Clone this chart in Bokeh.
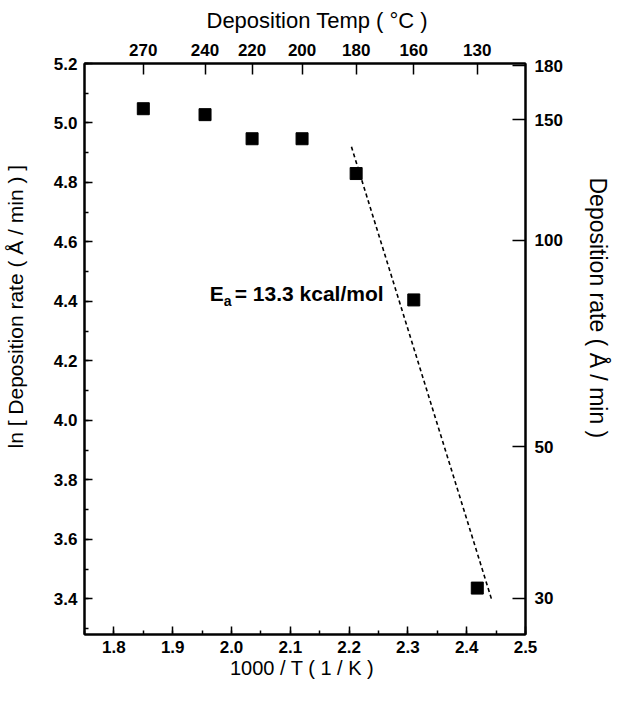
import math
from bokeh.plotting import figure
from bokeh.models import (Range1d, LinearAxis, LogAxis, LogScale, SingleIntervalTicker,
                          FixedTicker, CustomJSTickFormatter, NumeralTickFormatter, Title)
from bokeh.core.properties import value
from bokeh.embed import file_html
from bokeh.resources import INLINE

# ---- data ----
inv_T = [1.85, 1.955, 2.035, 2.12, 2.212, 2.31, 2.418]          # 1000/T (1/K)
ln_rate = [5.048, 5.028, 4.947, 4.947, 4.83, 4.405, 3.436]       # ln(rate)
temp_labels = ["270", "240", "220", "200", "180", "160", "130"]  # top axis (°C)
fit_x = [2.204, 2.442]
fit_y = [4.92, 3.40]
rate_ticks = [30, 50, 100, 150, 180]                             # right axis (Å/min)
ea_text = "= 13.3 kcal/mol"

FONT = "Liberation Sans"
x_lo, x_hi = 1.75, 2.5
y_lo, y_hi = 3.28, 5.2

p = figure(width=612, height=685, x_range=Range1d(x_lo, x_hi), y_range=Range1d(y_lo, y_hi),
           x_axis_type=None, y_axis_type=None, output_backend="svg", toolbar_location=None,
           min_border_left=84, min_border_right=83, min_border_top=63, min_border_bottom=51)
p.outline_line_color = "black"
p.outline_line_width = 2
p.background_fill_color = "white"
p.border_fill_color = "white"

p.extra_y_ranges = {"rate": Range1d(math.exp(y_lo), math.exp(y_hi))}
p.extra_y_scales = {"rate": LogScale()}


def style(ax, tick_in, minor_in, label_standoff):
    ax.axis_line_color = "black"
    ax.axis_line_width = 2
    ax.major_tick_in = tick_in
    ax.major_tick_out = 0
    ax.minor_tick_in = minor_in
    ax.minor_tick_out = 0
    ax.major_tick_line_width = 1.5
    ax.minor_tick_line_width = 1.5
    ax.major_label_text_font = FONT
    ax.major_label_text_font_style = "bold"
    ax.major_label_text_font_size = "17px"
    ax.major_label_text_color = "black"
    ax.major_label_standoff = label_standoff


def spacer(side, px, anchor):
    """Axis with one invisible outward tick: reserves space between ticks and a title."""
    ax = LinearAxis(ticker=FixedTicker(ticks=[anchor], minor_ticks=[]),
                    formatter=CustomJSTickFormatter(code="return '';"))
    ax.axis_line_color = None
    ax.major_tick_in = 0
    ax.major_tick_out = px
    ax.major_tick_line_alpha = 0
    ax.minor_tick_in = 0
    ax.minor_tick_out = 0
    ax.major_label_standoff = 0
    ax.major_label_text_font_size = "0px"
    p.add_layout(ax, side)


def side_title(side, text, size, offset):
    t = Title(text=text, align="left", offset=offset, standoff=0,
              vertical_align="bottom", text_font=FONT, text_font_size=size,
              text_font_style="normal", text_color="black")
    p.add_layout(t, side)


bottom = LinearAxis(ticker=SingleIntervalTicker(interval=0.1, num_minor_ticks=2),
                    formatter=NumeralTickFormatter(format="0.0"),
                    axis_label="1000 / T  ( 1 / K )")
style(bottom, 8, 4, 6)
bottom.axis_label_standoff = 1
bottom.axis_label_text_font = FONT
bottom.axis_label_text_font_style = "normal"
bottom.axis_label_text_font_size = "20px"
bottom.axis_label_text_color = "black"
p.add_layout(bottom, "below")

left = LinearAxis(ticker=SingleIntervalTicker(interval=0.2, num_minor_ticks=2),
                  formatter=NumeralTickFormatter(format="0.0"))
style(left, 8, 4, 7)
p.add_layout(left, "left")

top = LinearAxis(ticker=FixedTicker(ticks=inv_T, minor_ticks=[]),
                 formatter=CustomJSTickFormatter(args=dict(labels=temp_labels),
                                                 code="return labels[index];"))
style(top, 11, 0, 8)
p.add_layout(top, "above")

right = LogAxis(y_range_name="rate", ticker=FixedTicker(ticks=rate_ticks, minor_ticks=[]),
                formatter=NumeralTickFormatter(format="0"))
style(right, 13, 0, 9)
p.add_layout(right, "right")

# titles, pushed outward by spacers and shifted along their side like the reference
spacer("left", 24, 4.0)
side_title("left", "ln [ Deposition rate ( Å / min ) ]", "21px", 186)
spacer("right", 19, 4.0)
side_title("right", "Deposition rate  ( Å / min )", "23px", 114)
spacer("above", 8, 2.0)
side_title("above", "Deposition Temp ( °C )", "22px", 122)

# data
p.scatter(inv_T, ln_rate, marker="square", size=12, fill_color="black", line_color="black")
p.line(fit_x, fit_y, line_color="black", line_width=1.6, line_dash="4 3")

# annotation E_a = 13.3 kcal/mol
ax0, ay0 = 1.963, 4.426
p.text(x=[ax0], y=[ay0], text=["E"], text_font=value(FONT), text_font_style="bold",
       text_font_size="21px", text_baseline="middle", text_align="left", text_color="black")
p.text(x=[ax0], y=[ay0], text=["a"], text_font=value(FONT), text_font_style="bold",
       text_font_size="14px", text_baseline="middle", text_align="left", text_color="black",
       x_offset=14, y_offset=7)
p.text(x=[ax0], y=[ay0], text=[ea_text], text_font=value(FONT), text_font_style="bold",
       text_font_size="21px", text_baseline="middle", text_align="left", text_color="black",
       x_offset=25)

open("out.html", "w").write(file_html(p, INLINE))
